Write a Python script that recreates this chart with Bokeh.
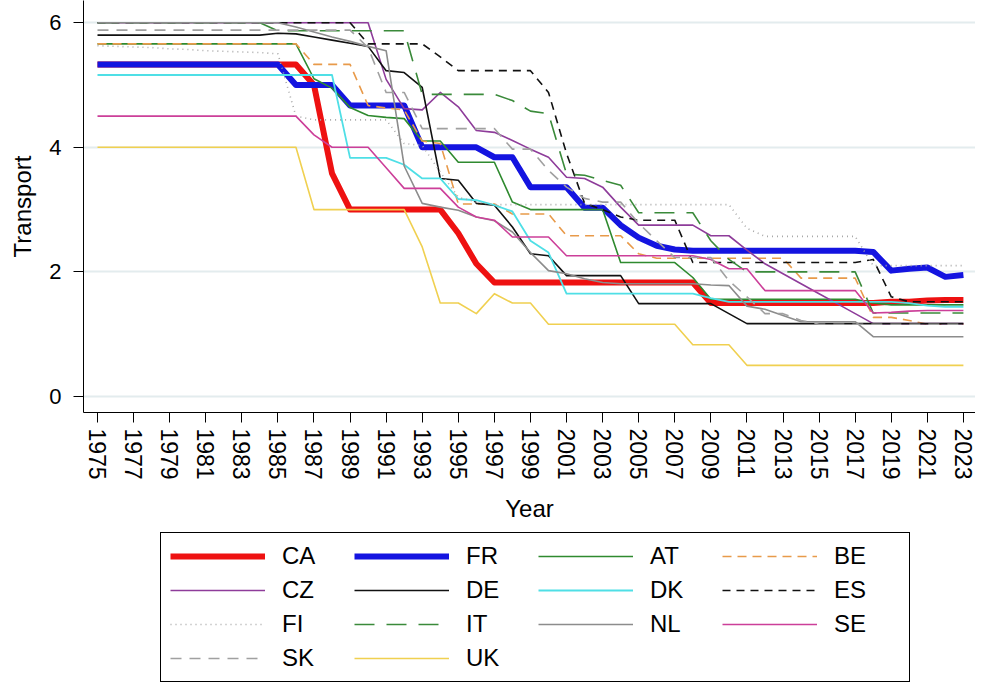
from bokeh.plotting import figure
from bokeh.models import Range1d, FixedTicker, Legend, LegendItem
from bokeh.layouts import column
from bokeh.embed import file_html
from bokeh.resources import INLINE

years = list(range(1975, 2024))

CA = [5.33]*12 + [5.0, 3.58] + [3.0]*6 + [2.62, 2.13] + [1.83]*12 + [1.5]*10 + [1.52, 1.52, 1.54, 1.55, 1.55]
FR = [5.33]*11 + [5.0]*3 + [4.67]*4 + [4.0]*4 + [3.84]*2 + [3.36]*3 + [3.03]*2 + [2.75, 2.55, 2.42, 2.36] + [2.34]*10 + [2.32, 2.02, 2.05, 2.07, 1.92, 1.95]
AT = [5.66]*12 + [5.1, 4.95, 4.64, 4.51, 4.48, 4.46] + [4.1]*2 + [3.76]*3 + [3.12] + [3.0]*5 + [2.15]*4 + [1.91] + [1.56]*9 + [1.5] + [1.47]*5
BE = [5.66]*12 + [5.33]*3 + [4.67, 4.63, 4.6, 4.1, 4.06] + [3.09]*3 + [2.93]*3 + [2.58]*4 + [2.29] + [2.22]*8 + [1.9]*4 + [1.27]*2 + [1.22] + [1.16]*3
CZ = [6.0]*16 + [5.09, 4.62, 4.6, 4.88, 4.65, 4.27, 4.24, 4.11, 3.97, 3.84, 3.52, 3.5, 3.36, 3.04] + [2.75]*4 + [2.58]*2 + [2.35, 2.13, 1.97, 1.81, 1.65, 1.49, 1.33] + [1.17]*6
DE = [5.8]*10 + [5.83, 5.82, 5.77, 5.72, 5.67, 5.62, 5.23, 5.2, 4.96, 3.5, 3.47, 3.1, 3.07, 2.72, 2.29, 2.26] + [1.94]*4 + [1.49]*5 + [1.33] + [1.17]*13
DK = [5.16]*14 + [3.83]*3 + [3.72] + [3.5]*2 + [3.17, 3.15, 3.07, 2.97, 2.5, 2.31] + [1.65]*8 + [1.58] + [1.52]*10 + [1.5, 1.46] + [1.44]*2
ES = [6.0]*15 + [5.66]*4 + [5.45] + [5.23]*5 + [4.88, 3.9, 3.1, 3.0, 2.88] + [2.83]*3 + [2.15]*10 + [2.2, 1.6] + [1.52]*4
FI = [5.63, 5.62, 5.61, 5.6, 5.58, 5.57, 5.55, 5.54, 5.53, 5.52, 5.5, 4.5] + [4.44]*5 + [4.06, 4.03, 3.6, 3.2, 3.12] + [3.08]*14 + [2.7] + [2.57]*6 + [2.1]*6
IT = [6.0]*10 + [5.87]*8 + [4.85]*5 + [4.75, 4.58, 4.54, 3.57, 3.55, 3.47, 3.39] + [2.95]*4 + [2.5, 2.2] + [2.0]*7 + [1.34]*6
NL = [6.0]*11 + [5.93, 5.85, 5.77, 5.7, 5.62, 5.55, 3.7, 3.1, 3.04, 2.99, 2.88, 2.82, 2.64, 2.31, 2.02, 1.97, 1.89, 1.83] + [1.81]*5 + [1.79, 1.78, 1.45, 1.4, 1.3] + [1.2]*4 + [0.96]*6
SE = [4.5]*12 + [4.2] + [4.0]*3 + [3.67] + [3.34]*3 + [3.04, 2.88, 2.83] + [2.56]*3 + [2.26]*8 + [2.2] + [2.05]*2 + [1.7]*6 + [1.34, 1.35, 1.37] + [1.38]*3
SK = [5.88]*15 + [5.6] + [4.88]*2 + [4.3]*5 + [3.97]*2 + [3.63, 3.36, 3.18] + [3.12]*2 + [2.78, 2.5] + [2.23]*3 + [1.86, 1.6] + [1.33]*2 + [1.22] + [1.16]*9
UK = [4.0]*12 + [3.0]*6 + [2.4] + [1.5]*2 + [1.33, 1.65] + [1.5]*2 + [1.16]*8 + [0.83]*3 + [0.5]*13

series = [
    ("CA", CA, "#ee1111", 6, "solid"),
    ("FR", FR, "#1414e0", 6, "solid"),
    ("AT", AT, "#2f8a2f", 1.6, "solid"),
    ("BE", BE, "#e89a4a", 1.6, "9 6"),
    ("CZ", CZ, "#8e3c9a", 1.6, "solid"),
    ("DE", DE, "#111111", 1.6, "solid"),
    ("DK", DK, "#4fdfe6", 1.8, "solid"),
    ("ES", ES, "#111111", 1.6, "8 6"),
    ("FI", FI, "#a8a8a8", 1.6, "1 4"),
    ("IT", IT, "#3a8a3a", 1.6, "20 12"),
    ("NL", NL, "#8c8c8c", 1.6, "solid"),
    ("SE", SE, "#cc3f99", 1.6, "solid"),
    ("SK", SK, "#a0a0a0", 1.6, "11 8"),
    ("UK", UK, "#f0d050", 1.6, "solid"),
]

FONT = "Liberation Sans"

# main chart
p = figure(width=975, height=530, output_backend="svg", toolbar_location=None,
           x_range=Range1d(1974.224, 2023.67), y_range=Range1d(-0.257, 6.356),
           min_border_left=83, min_border_right=0, min_border_top=0, min_border_bottom=118)
p.outline_line_color = None
p.background_fill_color = "white"

for name, vals, color, lw, dash in series:
    p.line(years, vals, line_color=color, line_width=lw, line_dash=dash, line_join="round")

p.xgrid.grid_line_color = None
p.ygrid.grid_line_color = "#e3ecee"
p.ygrid.grid_line_width = 2

p.xaxis.ticker = FixedTicker(ticks=list(range(1975, 2024, 2)))
p.yaxis.ticker = FixedTicker(ticks=[0, 2, 4, 6])
for ax in (p.xaxis[0], p.yaxis[0]):
    ax.major_tick_out = 10
    ax.major_tick_in = 0
    ax.minor_tick_out = 0
    ax.minor_tick_in = 0
    ax.axis_line_color = "black"
    ax.major_tick_line_color = "black"
    ax.major_label_text_font = FONT
    ax.major_label_text_color = "black"
    ax.axis_label_text_font = FONT
    ax.axis_label_text_font_style = "normal"
    ax.axis_label_text_font_size = "24px"
    ax.axis_label_text_color = "black"

p.xaxis.major_label_orientation = "vertical"
p.xaxis.major_label_text_font_size = "23px"
p.xaxis.major_label_standoff = 6
p.xaxis.axis_label = "Year"
p.xaxis.axis_label_standoff = 12
p.yaxis.major_label_text_font_size = "22px"
p.yaxis.major_label_standoff = 12
p.yaxis.axis_label = "Transport"
p.yaxis.axis_label_standoff = 10

# legend panel: same series drawn outside this panel's visible range, used as legend keys
p2 = figure(width=975, height=154, output_backend="svg", toolbar_location=None,
            x_axis_type=None, y_axis_type=None, min_border=0,
            x_range=Range1d(0, 1), y_range=Range1d(0, 1))
p2.outline_line_color = None
p2.xgrid.visible = False
p2.ygrid.visible = False

items = []
for name, vals, color, lw, dash in series:
    r = p2.line(years, vals, line_color=color, line_width=lw, line_dash=dash)
    items.append(LegendItem(label=name, renderers=[r]))

legend = Legend(items=items, orientation="horizontal", ncols=4, location=(77, 2),
                label_text_font=FONT, label_text_font_size="24px", label_text_color="black",
                glyph_width=95, glyph_height=20, label_standoff=17, label_width=66,
                spacing=6, padding=9, margin=0,
                border_line_color="black", border_line_width=1, border_line_alpha=1.0,
                background_fill_color="white", background_fill_alpha=1.0)
p2.add_layout(legend, "center")

layout = column(p, p2, spacing=0)
open("out.html", "w").write(file_html(layout, INLINE))
